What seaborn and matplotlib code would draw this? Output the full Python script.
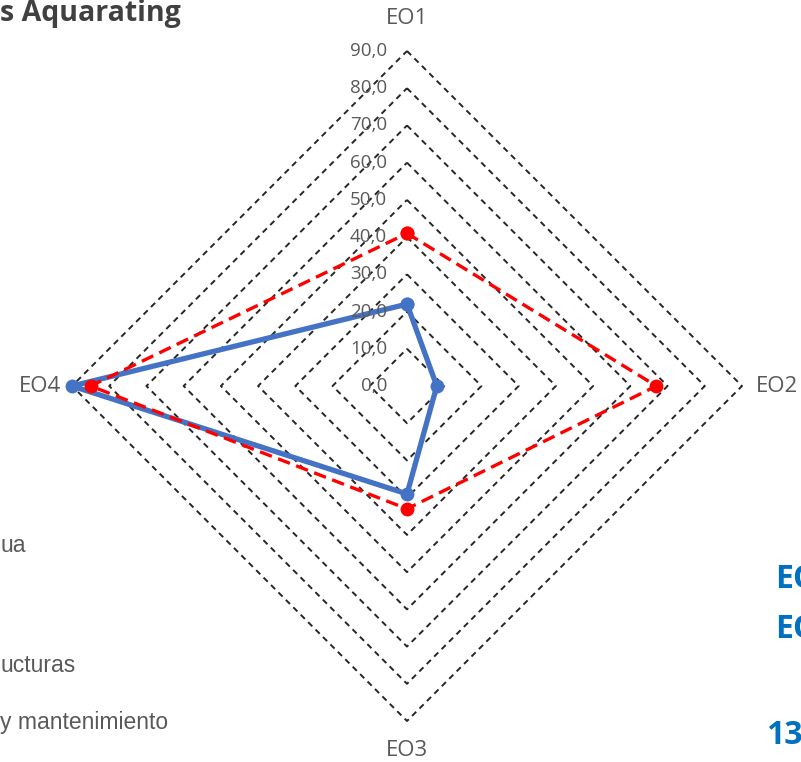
import numpy as np
import pandas as pd
import matplotlib
matplotlib.use("Agg")
import matplotlib.pyplot as plt
import seaborn as sns

# ---- data ----
categories = ["EO1", "EO2", "EO3", "EO4"]
serie_azul = [22, 8, 29, 90]
serie_roja = [41, 67, 33, 85]
ring_values = [10, 20, 30, 40, 50, 60, 70, 80, 90]
tick_values = [0, 10, 20, 30, 40, 50, 60, 70, 80, 90]
tick_labels = ["0,0", "10,0", "20,0", "30,0", "40,0", "50,0", "60,0", "70,0", "80,0", "90,0"]
title_text = "s Aquarating"
left_texts = ["ua", "ucturas", "y mantenimiento"]
right_texts = ["EO", "EO", "13"]

sns.set_theme(style="white")
plt.rcParams["font.family"] = ["Open Sans", "DejaVu Sans"]

W, H = 801, 762
fig = plt.figure(figsize=(W / 100, H / 100), dpi=100)
cx, cy, R = 407, 386, 335
ax = fig.add_axes([(cx - R) / W, (H - cy - R) / H, 2 * R / W, 2 * R / H], projection="polar")
ax.set_theta_offset(np.pi / 2)
ax.set_theta_direction(-1)
ax.set_ylim(0, 90)
ax.grid(False)
ax.spines["polar"].set_visible(False)
ax.set_xticks([])
ax.set_yticks([])
ax.patch.set_alpha(0)

n = len(categories)
angles = [i * 2 * np.pi / n for i in range(n)]
closed = angles + [angles[0]]

# diamond rings
for v in ring_values:
    ax.plot(closed, [v] * len(closed), color="#262626", lw=1.4,
            ls=(0, (3, 2.4)), zorder=1, clip_on=False)

def frame(vals, name):
    return pd.DataFrame({"theta": closed, "value": list(vals) + [vals[0]], "serie": name})

df_azul = frame(serie_azul, "azul")
df_roja = frame(serie_roja, "roja")

sns.lineplot(data=df_azul, x="theta", y="value", sort=False, ax=ax, color="#4472C4",
             lw=3.8, marker="o", markersize=10, markeredgewidth=0, zorder=3,
             estimator=None, clip_on=False)
sns.lineplot(data=df_roja, x="theta", y="value", sort=False, ax=ax, color="#FF0000",
             lw=2.4, ls=(0, (3.8, 2)), marker="o", markersize=10, markeredgewidth=0,
             zorder=4, estimator=None, clip_on=False)
ax.set_xlabel("")
ax.set_ylabel("")
ax.set_ylim(0, 90)

# radial tick labels
for v, lab in zip(tick_values, tick_labels):
    ax.annotate(lab, xy=(0, v), xytext=(-20, 0), textcoords="offset pixels",
                ha="right", va="center", fontsize=13.5, color="#595959", zorder=5)

# category labels
offsets = [((0, 32), "center"), ((14, 0), "left"), ((0, -30), "center"), ((-11, 0), "right")]
for ang, lab, (off, ha) in zip(angles, categories, offsets):
    ax.annotate(lab, xy=(ang, 90), xytext=off, textcoords="offset pixels",
                ha=ha, va="center", fontsize=16, color="#595959")

# cropped surrounding texts
fig.text(0 / W, 1 - 21 / H, title_text, ha="left", va="baseline", fontsize=20.5,
         fontweight="bold", color="#404040")
for txt, y in zip(left_texts, [545, 665, 722]):
    fig.text(0, 1 - y / H, txt, ha="left", va="center", fontsize=16.5,
             color="#595959", family=["Liberation Sans", "DejaVu Sans"])
for txt, x, y in zip(right_texts, [775, 775, 766], [580, 629, 735]):
    fig.text(x / W, 1 - y / H, txt, ha="left", va="center", fontsize=23,
             fontweight="bold", color="#0070C0")

fig.savefig("out.png", dpi=100)
